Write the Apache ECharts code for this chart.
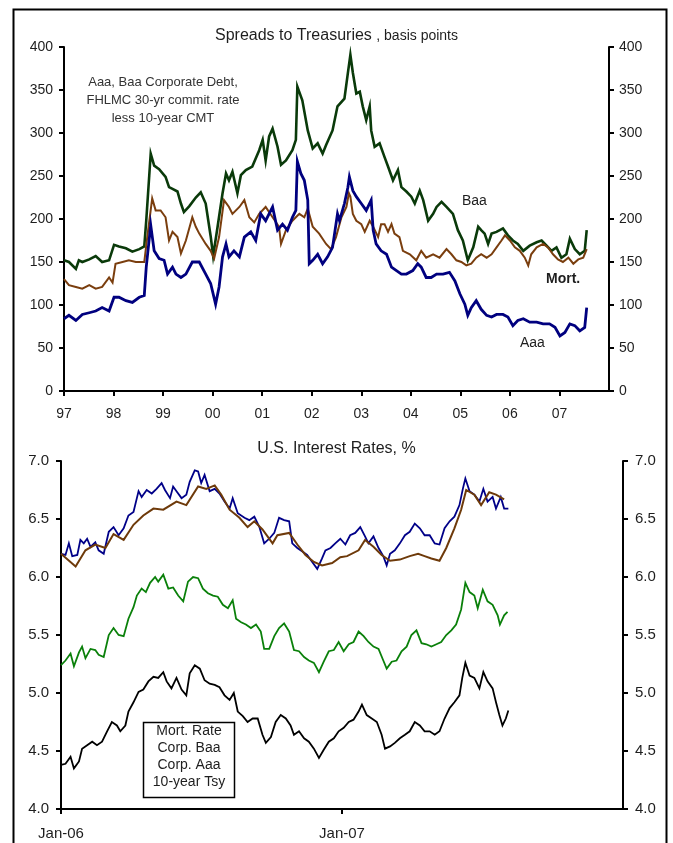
<!DOCTYPE html>
<html>
<head>
<meta charset="utf-8">
<script src="https://cdn.jsdelivr.net/npm/echarts@6/dist/echarts.min.js"></script>
<style>
  html, body { margin: 0; padding: 0; background: #fff; }
  #chart { width: 673px; height: 843px; }
</style>
</head>
<body>
<div id="chart"></div>
<script>
// ---- Spreads to Treasuries (basis points), x = decimal year ----
const spreadYearTicks = ['97','98','99','00','01','02','03','04','05','06','07'];

const spreadBaa = [
  [1997.00,152],[1997.10,150],[1997.24,142],[1997.30,152],[1997.37,150],[1997.51,153],[1997.64,157],
  [1997.77,150],[1997.91,152],[1998.01,170],[1998.11,168],[1998.25,166],[1998.38,162],[1998.52,165],
  [1998.62,168],[1998.66,198],[1998.72,250],[1998.75,276],[1998.82,262],[1998.92,258],[1999.05,249],
  [1999.12,237],[1999.19,235],[1999.29,232],[1999.36,218],[1999.42,208],[1999.53,215],[1999.66,225],
  [1999.76,231],[1999.86,218],[1999.96,180],[2000.01,157],[2000.10,191],[2000.20,230],[2000.27,253],
  [2000.33,245],[2000.40,255],[2000.50,230],[2000.57,251],[2000.67,257],[2000.80,261],[2000.94,280],
  [2001.01,292],[2001.07,268],[2001.14,296],[2001.21,305],[2001.31,284],[2001.38,263],[2001.48,268],
  [2001.61,280],[2001.68,292],[2001.71,354],[2001.81,338],[2001.92,303],[2002.02,282],[2002.12,288],
  [2002.22,276],[2002.29,286],[2002.42,303],[2002.52,331],[2002.66,340],[2002.73,370],[2002.78,391],
  [2002.83,370],[2002.90,346],[2002.97,348],[2003.03,331],[2003.10,315],[2003.17,331],[2003.20,303],
  [2003.27,284],[2003.37,288],[2003.47,272],[2003.54,261],[2003.64,245],[2003.74,257],[2003.81,237],
  [2003.91,232],[2004.01,226],[2004.08,218],[2004.18,233],[2004.25,222],[2004.35,198],[2004.45,206],
  [2004.52,214],[2004.62,220],[2004.72,214],[2004.85,206],[2004.95,187],[2005.05,175],[2005.15,152],
  [2005.26,167],[2005.36,191],[2005.42,187],[2005.49,183],[2005.56,171],[2005.63,183],[2005.73,185],
  [2005.86,189],[2005.96,181],[2006.06,175],[2006.16,171],[2006.27,163],[2006.40,169],[2006.54,173],
  [2006.64,175],[2006.74,169],[2006.84,163],[2006.94,167],[2007.04,155],[2007.14,159],[2007.21,177],
  [2007.31,165],[2007.41,159],[2007.51,163],[2007.55,187]
];

const spreadMort = [
  [1997.00,130],[1997.10,123],[1997.24,121],[1997.37,119],[1997.51,123],[1997.64,119],[1997.77,121],
  [1997.91,132],[1997.98,126],[1998.04,148],[1998.18,150],[1998.31,152],[1998.45,150],[1998.62,150],
  [1998.68,179],[1998.78,224],[1998.85,210],[1998.95,210],[1999.05,202],[1999.12,175],[1999.19,185],
  [1999.29,179],[1999.36,160],[1999.46,175],[1999.59,202],[1999.66,191],[1999.73,183],[1999.86,171],
  [1999.96,163],[2000.03,154],[2000.13,179],[2000.23,222],[2000.33,214],[2000.40,206],[2000.54,214],
  [2000.64,222],[2000.74,202],[2000.84,196],[2000.94,206],[2001.07,214],[2001.21,202],[2001.34,191],
  [2001.38,171],[2001.48,187],[2001.61,198],[2001.75,206],[2001.85,202],[2001.92,212],[2002.02,191],
  [2002.15,183],[2002.29,171],[2002.39,165],[2002.49,179],[2002.60,202],[2002.70,214],[2002.75,230],
  [2002.78,226],[2002.83,206],[2002.90,198],[2003.00,194],[2003.07,185],[2003.17,198],[2003.24,191],
  [2003.34,179],[2003.40,194],[2003.47,194],[2003.54,185],[2003.61,194],[2003.67,183],[2003.77,179],
  [2003.84,163],[2003.98,159],[2004.11,152],[2004.21,163],[2004.31,155],[2004.45,159],[2004.58,155],
  [2004.72,165],[2004.82,159],[2004.92,152],[2005.02,150],[2005.12,146],[2005.22,148],[2005.32,155],
  [2005.42,159],[2005.53,155],[2005.63,159],[2005.73,167],[2005.83,175],[2005.90,181],[2006.00,175],
  [2006.10,167],[2006.20,163],[2006.30,155],[2006.37,146],[2006.43,159],[2006.54,167],[2006.67,171],
  [2006.77,167],[2006.87,159],[2006.97,153],[2007.07,150],[2007.18,155],[2007.28,148],[2007.38,153],
  [2007.48,155],[2007.55,165]
];

const spreadAaa = [
  [1997.00,84],[1997.10,88],[1997.24,82],[1997.37,89],[1997.51,91],[1997.64,93],[1997.77,97],
  [1997.91,93],[1998.01,109],[1998.11,109],[1998.25,105],[1998.38,103],[1998.52,109],[1998.62,111],
  [1998.66,144],[1998.75,193],[1998.82,163],[1998.92,154],[1999.02,152],[1999.09,136],[1999.19,144],
  [1999.26,136],[1999.36,132],[1999.46,136],[1999.59,150],[1999.73,150],[1999.86,136],[1999.96,125],
  [2000.06,101],[2000.13,121],[2000.20,156],[2000.27,171],[2000.33,156],[2000.43,163],[2000.54,156],
  [2000.64,179],[2000.77,185],[2000.87,175],[2000.97,206],[2001.07,198],[2001.21,214],[2001.31,187],
  [2001.41,194],[2001.51,187],[2001.61,202],[2001.68,210],[2001.71,267],[2001.78,253],[2001.85,245],
  [2001.92,222],[2001.95,148],[2002.02,152],[2002.12,159],[2002.22,148],[2002.32,156],[2002.42,167],
  [2002.52,206],[2002.56,198],[2002.66,218],[2002.73,237],[2002.76,249],[2002.83,233],[2002.90,226],
  [2003.00,218],[2003.10,210],[2003.20,222],[2003.24,187],[2003.30,171],[2003.40,163],[2003.51,159],
  [2003.61,144],[2003.71,140],[2003.81,136],[2003.91,136],[2004.04,140],[2004.14,148],[2004.21,144],
  [2004.31,132],[2004.41,132],[2004.52,136],[2004.65,136],[2004.78,138],[2004.89,128],[2004.99,113],
  [2005.09,101],[2005.15,88],[2005.22,97],[2005.32,105],[2005.42,95],[2005.53,88],[2005.63,86],
  [2005.73,89],[2005.86,89],[2005.96,86],[2006.06,76],[2006.16,82],[2006.27,84],[2006.40,80],
  [2006.54,80],[2006.67,78],[2006.80,78],[2006.91,74],[2007.01,64],[2007.11,68],[2007.21,78],
  [2007.31,76],[2007.41,70],[2007.51,74],[2007.55,97]
];

// ---- U.S. Interest Rates (%), x = decimal year ----
const rateMort = [
  [2006.000,6.20],[2006.052,6.09],[2006.087,6.23],[2006.122,6.28],[2006.158,6.25],[2006.187,6.37],
  [2006.223,6.32],[2006.258,6.45],[2006.293,6.53],[2006.329,6.59],[2006.364,6.58],[2006.411,6.65],
  [2006.446,6.62],[2006.488,6.78],[2006.517,6.76],[2006.547,6.79],[2006.570,6.71],[2006.600,6.58],
  [2006.635,6.51],[2006.664,6.43],[2006.688,6.48],[2006.717,6.41],[2006.753,6.29],[2006.770,6.36],
  [2006.812,6.38],[2006.841,6.28],[2006.870,6.19],[2006.900,6.13],[2006.929,6.10],[2006.965,6.12],
  [2006.994,6.17],[2007.018,6.18],[2007.059,6.23],[2007.082,6.32],[2007.112,6.26],[2007.141,6.19],
  [2007.171,6.14],[2007.206,6.15],[2007.241,6.18],[2007.271,6.20],[2007.294,6.18],[2007.318,6.16],
  [2007.347,6.14],[2007.371,6.25],[2007.400,6.42],[2007.424,6.58],[2007.442,6.75],[2007.471,6.71],
  [2007.495,6.62],[2007.524,6.73],[2007.548,6.71],[2007.577,6.67]
];

const rateBaa = [
  [2006.000,6.20],[2006.016,6.19],[2006.028,6.29],[2006.040,6.18],[2006.058,6.19],[2006.069,6.32],
  [2006.081,6.29],[2006.093,6.33],[2006.105,6.26],[2006.122,6.30],[2006.134,6.23],[2006.152,6.20],
  [2006.170,6.39],[2006.187,6.43],[2006.205,6.36],[2006.223,6.42],[2006.240,6.53],[2006.258,6.56],
  [2006.276,6.74],[2006.287,6.69],[2006.305,6.75],[2006.323,6.72],[2006.340,6.76],[2006.358,6.81],
  [2006.370,6.75],[2006.388,6.68],[2006.399,6.78],[2006.411,6.74],[2006.429,6.68],[2006.446,6.71],
  [2006.458,6.82],[2006.476,6.92],[2006.488,6.91],[2006.499,6.81],[2006.511,6.88],[2006.529,6.74],
  [2006.547,6.76],[2006.564,6.72],[2006.582,6.65],[2006.600,6.59],[2006.611,6.68],[2006.629,6.55],
  [2006.653,6.51],[2006.670,6.49],[2006.688,6.52],[2006.706,6.43],[2006.723,6.29],[2006.741,6.33],
  [2006.759,6.38],[2006.776,6.51],[2006.794,6.49],[2006.812,6.48],[2006.823,6.29],[2006.841,6.25],
  [2006.859,6.22],[2006.876,6.19],[2006.894,6.13],[2006.912,6.07],[2006.929,6.16],[2006.941,6.23],
  [2006.959,6.25],[2006.976,6.29],[2006.994,6.33],[2007.012,6.28],[2007.029,6.36],[2007.047,6.38],
  [2007.065,6.43],[2007.082,6.35],[2007.094,6.29],[2007.112,6.35],[2007.130,6.25],[2007.147,6.18],
  [2007.159,6.10],[2007.171,6.20],[2007.188,6.23],[2007.206,6.29],[2007.224,6.36],[2007.241,6.39],
  [2007.259,6.46],[2007.277,6.42],[2007.294,6.36],[2007.312,6.36],[2007.330,6.29],[2007.347,6.28],
  [2007.365,6.42],[2007.383,6.48],[2007.400,6.52],[2007.418,6.62],[2007.430,6.76],[2007.439,6.85],
  [2007.454,6.74],[2007.471,6.71],[2007.489,6.65],[2007.503,6.76],[2007.518,6.65],[2007.536,6.69],
  [2007.548,6.59],[2007.565,6.69],[2007.577,6.59],[2007.592,6.59]
];

const rateAaa = [
  [2006.000,5.24],[2006.016,5.28],[2006.034,5.34],[2006.046,5.23],[2006.064,5.35],[2006.075,5.40],
  [2006.087,5.30],[2006.105,5.38],[2006.122,5.37],[2006.134,5.33],[2006.152,5.31],[2006.170,5.50],
  [2006.187,5.56],[2006.205,5.50],[2006.223,5.49],[2006.240,5.64],[2006.258,5.74],[2006.270,5.84],
  [2006.287,5.90],[2006.302,5.87],[2006.317,5.95],[2006.335,6.00],[2006.346,5.96],[2006.364,6.02],
  [2006.382,5.90],[2006.399,5.91],[2006.417,5.84],[2006.435,5.79],[2006.452,5.96],[2006.470,6.00],
  [2006.488,5.99],[2006.505,5.90],[2006.523,5.86],[2006.541,5.84],[2006.558,5.83],[2006.576,5.76],
  [2006.594,5.73],[2006.611,5.80],[2006.623,5.64],[2006.641,5.61],[2006.658,5.59],[2006.676,5.56],
  [2006.694,5.59],[2006.711,5.53],[2006.723,5.38],[2006.741,5.38],[2006.759,5.49],[2006.776,5.56],
  [2006.794,5.60],[2006.812,5.53],[2006.829,5.37],[2006.847,5.36],[2006.865,5.31],[2006.882,5.28],
  [2006.900,5.26],[2006.918,5.18],[2006.935,5.27],[2006.953,5.36],[2006.971,5.37],[2006.988,5.44],
  [2007.006,5.36],[2007.024,5.42],[2007.041,5.44],[2007.059,5.53],[2007.077,5.49],[2007.094,5.44],
  [2007.112,5.40],[2007.130,5.38],[2007.147,5.28],[2007.159,5.21],[2007.177,5.27],[2007.194,5.28],
  [2007.212,5.36],[2007.230,5.40],[2007.247,5.50],[2007.265,5.54],[2007.283,5.43],[2007.300,5.42],
  [2007.318,5.40],[2007.336,5.42],[2007.353,5.44],[2007.371,5.50],[2007.389,5.54],[2007.406,5.59],
  [2007.424,5.72],[2007.439,5.95],[2007.454,5.87],[2007.471,5.84],[2007.483,5.73],[2007.501,5.89],
  [2007.518,5.79],[2007.536,5.76],[2007.554,5.67],[2007.562,5.59],[2007.577,5.67],[2007.589,5.70]
];

const rateTsy10 = [
  [2006.000,4.38],[2006.016,4.39],[2006.034,4.45],[2006.046,4.35],[2006.064,4.41],[2006.075,4.52],
  [2006.093,4.55],[2006.111,4.58],[2006.128,4.55],[2006.146,4.58],[2006.164,4.67],[2006.181,4.75],
  [2006.199,4.72],[2006.211,4.67],[2006.229,4.72],[2006.240,4.84],[2006.258,4.92],[2006.276,5.01],
  [2006.293,5.03],[2006.311,5.10],[2006.329,5.14],[2006.346,5.13],[2006.364,5.18],[2006.376,5.10],
  [2006.393,5.04],[2006.411,5.13],[2006.429,5.03],[2006.446,4.98],[2006.458,5.17],[2006.476,5.24],
  [2006.494,5.21],[2006.511,5.11],[2006.529,5.08],[2006.547,5.07],[2006.564,5.05],[2006.582,4.98],
  [2006.600,4.94],[2006.615,5.00],[2006.629,4.84],[2006.647,4.80],[2006.664,4.75],[2006.682,4.78],
  [2006.700,4.78],[2006.717,4.64],[2006.729,4.57],[2006.747,4.62],[2006.764,4.75],[2006.782,4.81],
  [2006.800,4.78],[2006.817,4.72],[2006.829,4.64],[2006.847,4.67],[2006.865,4.61],[2006.882,4.58],
  [2006.900,4.52],[2006.918,4.44],[2006.935,4.51],[2006.953,4.58],[2006.971,4.61],[2006.988,4.67],
  [2007.006,4.70],[2007.024,4.75],[2007.041,4.77],[2007.059,4.84],[2007.071,4.90],[2007.088,4.81],
  [2007.106,4.78],[2007.124,4.75],[2007.141,4.64],[2007.153,4.52],[2007.171,4.54],[2007.188,4.57],
  [2007.206,4.61],[2007.224,4.64],[2007.241,4.67],[2007.259,4.75],[2007.277,4.72],[2007.294,4.67],
  [2007.312,4.67],[2007.330,4.64],[2007.347,4.67],[2007.365,4.78],[2007.383,4.87],[2007.400,4.92],
  [2007.418,4.98],[2007.428,5.13],[2007.439,5.26],[2007.454,5.15],[2007.471,5.13],[2007.489,5.04],
  [2007.503,5.18],[2007.518,5.10],[2007.536,5.04],[2007.548,4.92],[2007.560,4.81],[2007.571,4.72],
  [2007.583,4.78],[2007.592,4.85]
];

const rateLegendLines = ['Mort. Rate', 'Corp. Baa', 'Corp. Aaa', '10-year Tsy'];

// ---- styling helpers ----
const FONT = '"Liberation Sans", Arial, sans-serif';
const INK = '#1e1e1e';

function yAxisDef(grid, pos, min, max, interval, size, margin, fmt) {
  return {
    type: 'value', gridIndex: grid, position: pos, min: min, max: max, interval: interval,
    axisLine: { show: true, lineStyle: { color: '#000', width: 2 } },
    axisTick: { show: true, inside: false, length: 5, lineStyle: { color: '#000', width: 2 } },
    axisLabel: { color: INK, fontFamily: FONT, fontSize: size, margin: margin, formatter: fmt },
    splitLine: { show: false }
  };
}

function lineSeries(data, color, width, xi, yi) {
  return {
    type: 'line', data: data, xAxisIndex: xi, yAxisIndex: yi,
    showSymbol: false, symbol: 'none', smooth: false,
    lineStyle: { color: color, width: width, join: 'miter' }, animation: false, silent: true
  };
}

const chart = echarts.init(document.getElementById('chart'), null, { renderer: 'canvas' });

chart.setOption({
  backgroundColor: '#fff',
  animation: false,
  grid: [
    { left: 64, top: 47, width: 545, height: 344 },
    { left: 61, top: 461, width: 562, height: 348 }
  ],
  xAxis: [
    {
      type: 'value', gridIndex: 0, min: 1997, max: 2008, interval: 1,
      axisLine: { onZero: false, lineStyle: { color: '#000', width: 2 } },
      axisTick: { length: 5, lineStyle: { color: '#000', width: 2 } },
      axisLabel: {
        color: INK, fontFamily: FONT, fontSize: 14, margin: 16, showMaxLabel: false,
        formatter: v => spreadYearTicks[Math.round(v - 1997)] || ''
      },
      splitLine: { show: false }
    },
    {
      type: 'value', gridIndex: 1, min: 2006, max: 2008, interval: 1,
      axisLine: { onZero: false, lineStyle: { color: '#000', width: 2 } },
      axisTick: { length: 5, lineStyle: { color: '#000', width: 2 } },
      axisLabel: {
        color: INK, fontFamily: FONT, fontSize: 15, margin: 17, showMaxLabel: false,
        formatter: v => 'Jan-' + String(v).slice(2)
      },
      splitLine: { show: false }
    }
  ],
  yAxis: [
    yAxisDef(0, 'left', 0, 400, 50, 14, 11, v => String(v)),
    yAxisDef(0, 'right', 0, 400, 50, 14, 10, v => String(v)),
    yAxisDef(1, 'left', 4, 7, 0.5, 15, 12, v => v.toFixed(1)),
    yAxisDef(1, 'right', 4, 7, 0.5, 15, 12, v => v.toFixed(1))
  ],
  series: [
    lineSeries(spreadBaa, '#0a3a0a', 2.6, 0, 0),
    lineSeries(spreadMort, '#7a3e0e', 2, 0, 0),
    lineSeries(spreadAaa, '#00007f', 2.8, 0, 0),
    lineSeries(rateBaa, '#000088', 1.8, 1, 2),
    lineSeries(rateMort, '#6e3a0a', 2, 1, 2),
    lineSeries(rateAaa, '#0a800a', 1.8, 1, 2),
    lineSeries(rateTsy10, '#000000', 1.8, 1, 2)
  ],
  graphic: [
    // outer frame
    { type: 'rect', shape: { x: 13.5, y: 9.5, width: 653, height: 850 },
      style: { fill: 'none', stroke: '#000', lineWidth: 2 }, silent: true },
    // panel titles
    { type: 'text', left: 'center', top: 28,
      style: { text: '{a|Spreads to Treasuries }{b|, basis points}',
        rich: { a: { fontFamily: FONT, fontSize: 16, fill: INK }, b: { fontFamily: FONT, fontSize: 14, fill: INK } } } },
    { type: 'text', left: 'center', top: 441,
      style: { text: 'U.S. Interest Rates, %', fontFamily: FONT, fontSize: 16, fill: INK } },
    // note on the spread definitions
    { type: 'text', x: 163, y: 73,
      style: { text: 'Aaa, Baa Corporate Debt,\nFHLMC 30-yr commit. rate\nless 10-year CMT',
        fontFamily: FONT, fontSize: 13, lineHeight: 18, fill: '#333', align: 'center' } },
    // series names in the spread panel
    { type: 'text', x: 462, y: 194, style: { text: 'Baa', fontFamily: FONT, fontSize: 14, fill: INK } },
    { type: 'text', x: 546, y: 272, style: { text: 'Mort.', fontFamily: FONT, fontSize: 14, fontWeight: 'bold', fill: INK } },
    { type: 'text', x: 520, y: 336, style: { text: 'Aaa', fontFamily: FONT, fontSize: 14, fill: INK } },
    // legend box in the rates panel
    { type: 'rect', shape: { x: 143.5, y: 722.5, width: 91, height: 75 },
      style: { fill: '#fff', stroke: '#000', lineWidth: 1.5 }, silent: true },
    { type: 'text', x: 189, y: 723,
      style: { text: rateLegendLines.join('\n'), fontFamily: FONT, fontSize: 14, lineHeight: 17,
        fill: INK, align: 'center' } }
  ]
});
</script>
</body>
</html>
